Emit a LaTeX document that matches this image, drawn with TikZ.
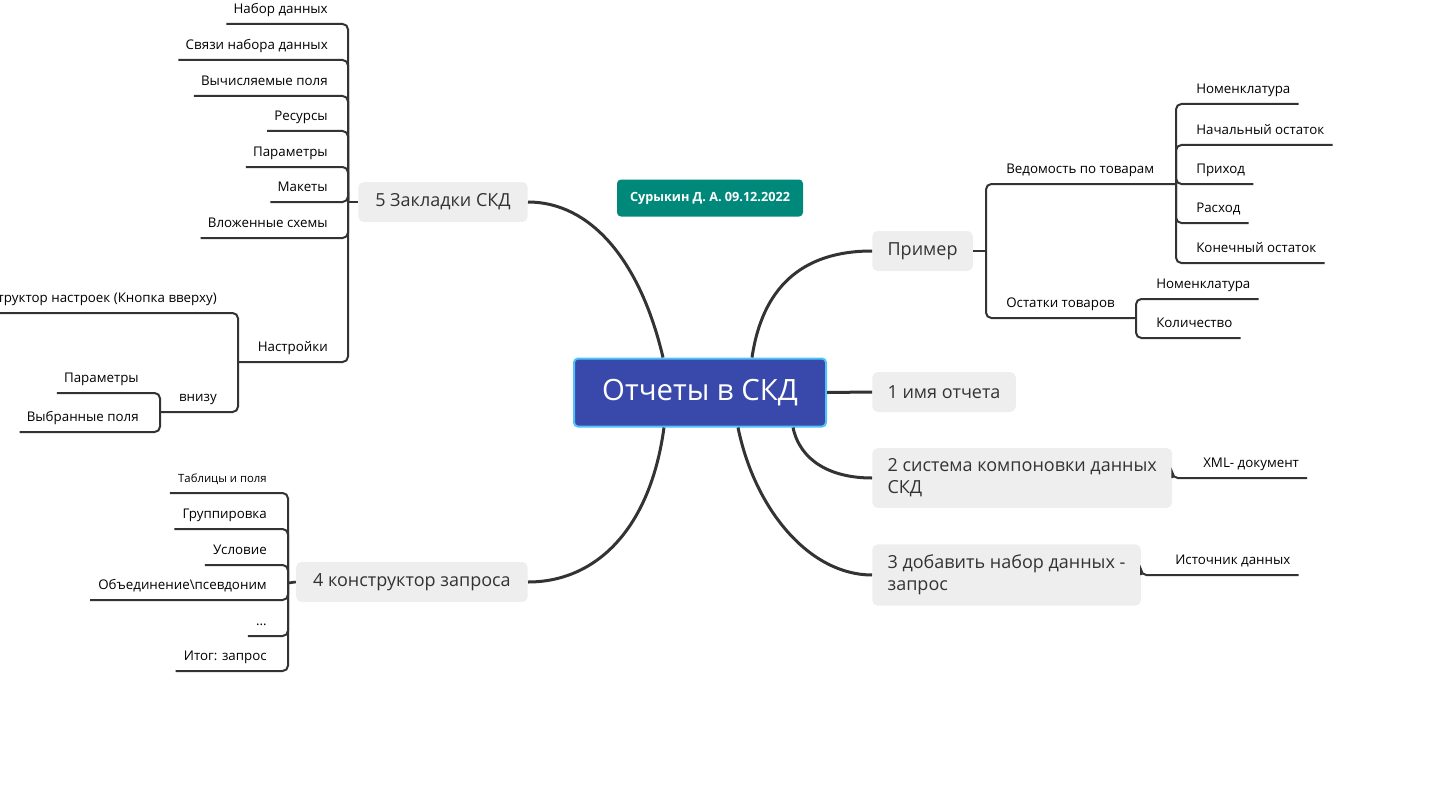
\documentclass[tikz,border=0pt]{standalone}
\usepackage{fontspec}
\setmainfont{Open Sans}
\usetikzlibrary{calc}
\definecolor{rootblue}{HTML}{3949AB}
\definecolor{selblue}{HTML}{4FC3F7}
\definecolor{authteal}{HTML}{00897B}
\definecolor{topicgray}{HTML}{EEEEEE}
\definecolor{linedark}{HTML}{333333}

\begin{document}
\begin{tikzpicture}[x=0.75pt,y=-0.75pt,
    trunk/.style={line width=2.25pt,draw=linedark},
    stem/.style={line width=2pt,draw=linedark},
    twig/.style={line width=1.5pt,draw=linedark,rounded corners=4pt},
    root/.style={draw=selblue,line width=1.5pt,fill=rootblue,rounded corners=3pt,text=white,
      font=\fontsize{22}{27}\selectfont,minimum width=189pt,minimum height=51pt},
    author/.style={fill=authteal,rounded corners=3pt,text=white,
      font=\bfseries\fontsize{9.5}{11}\selectfont,minimum width=139.5pt,minimum height=27.75pt},
    topic/.style={fill=topicgray,rounded corners=4pt,text=linedark,
      font=\fontsize{13.5}{16.5}\selectfont,inner xsep=12.75pt,inner ysep=8pt,minimum height=30pt},
    leaf/.style={inner xsep=0pt,inner ysep=7.5pt,text depth=0pt,text=black,font=\fontsize{10}{12}\selectfont},
    small/.style={leaf,font=\fontsize{8.5}{10}\selectfont}]
  \useasboundingbox (0,0) rectangle (1444,806);

  \node[root] (root) at (700,392.5) {Отчеты в СКД};
  \node[author] (auth) at (710,198) {Сурыкин Д. А. 09.12.2022};

  \node[topic,anchor=east] (t5) at (528,202) {5 Закладки СКД};
  \node[topic,anchor=east] (t4) at (528,582) {4 конструктор запроса};
  \node[topic,anchor=west,inner xsep=11.5pt] (t0) at (872,251) {Пример};
  \node[topic,anchor=west,inner xsep=11.5pt] (t1) at (872,392) {1 имя отчета};
  \node[topic,anchor=west,align=left,inner xsep=11.5pt] (t2) at (872,478) {2 система компоновки данных\\СКД};
  \node[topic,anchor=west,align=left,inner xsep=11.5pt] (t3) at (872,575) {3 добавить набор данных -\\запрос};

  \draw[trunk] ($(root.north)+(-37,0)$) .. controls +(-23,-98) and +(62,0) .. (t5.east);
  \draw[trunk] ($(root.north)+(52,0)$) .. controls +(10,-68) and +(-72,0) .. (t0.west);
  \draw[trunk] (root.east) -- (t1.west);
  \draw[trunk] ($(root.south)+(93,0)$) .. controls +(7,33) and +(-42,0) .. (t2.west);
  \draw[trunk] ($(root.south)+(38,0)$) .. controls +(17,83) and +(-62,0) .. (t3.west);
  \draw[trunk] ($(root.south)+(-36,0)$) .. controls +(-14,103) and +(67,0) .. (t4.east);

  % 5 Закладки СКД
  \coordinate (j5) at (348,202);
  \draw[stem] (t5.west) -- (j5);
  \foreach \n/\y/\t in {nabor/24/Набор данных, svyazi/60/Связи набора данных,
      vychisl/96/Вычисляемые поля, resursy/131/Ресурсы, param/167/Параметры,
      makety/202/Макеты, vlozh/238/Вложенные схемы}{
    \node[leaf,anchor=south east] (\n) at (328,\y) {\t};
    \draw[twig] (j5) |- ($(\n.south west)+(-7,0)$);
  }
  \node[leaf,anchor=south east] (nastr) at (328,362) {Настройки};
  \coordinate (jn) at (238,362);
  \draw[twig] (j5) |- (jn);
  \node[leaf,anchor=south east] (konstr) at (217,313) {Конструктор настроек (Кнопка вверху)};
  \draw[twig] (jn) |- ($(konstr.south west)+(-7,0)$);
  \node[leaf,anchor=south east] (vnizu) at (217,412) {внизу};
  \coordinate (jv) at (160,412);
  \draw[twig] (jn) |- (jv);
  \foreach \n/\y/\t in {param2/393/Параметры, vybr/432/Выбранные поля}{
    \node[leaf,anchor=south east] (\n) at (139,\y) {\t};
    \draw[twig] (jv) |- ($(\n.south west)+(-7,0)$);
  }

  % 4 конструктор запроса
  \coordinate (j4) at (288,583);
  \draw[stem] (t4.west) -- (j4);
  \node[small,anchor=south east] (tabl) at (267,493) {Таблицы и поля};
  \draw[twig] (j4) |- ($(tabl.south west)+(-8,0)$);
  \foreach \n/\y/\t in {grupp/529/Группировка, usl/565/Условие,
      obed/600/Объединение\textbackslash псевдоним, itog/671/Итог: запрос}{
    \node[leaf,anchor=south east] (\n) at (267,\y) {\t};
    \draw[twig] (j4) |- ($(\n.south west)+(-8,0)$);
  }
  \node[leaf,anchor=south east] (etc) at (267,636) {...};
  \draw[twig] (j4) |- ($(etc.south west)+(-8,0)$);

  % Пример
  \coordinate (jp) at (986,251);
  \draw[stem] (t0.east) -- (jp);
  \node[leaf,anchor=south west] (ved) at (1006,184) {Ведомость по товарам};
  \coordinate (jw) at (1176,184);
  \draw[twig] (jp) |- (jw);
  \node[leaf,anchor=south west] (ost) at (1006,318) {Остатки товаров};
  \coordinate (jo) at (1136,318);
  \draw[twig] (jp) |- (jo);
  \foreach \n/\y/\t in {nom/104/Номенклатура, nach/145/Начальный остаток,
      prih/184/Приход, rash/223/Расход, kon/263/Конечный остаток}{
    \node[leaf,anchor=south west] (\n) at (1196,\y) {\t};
    \draw[twig] (jw) |- ($(\n.south east)+(8,0)$);
  }
  \foreach \n/\y/\t in {nom2/299/Номенклатура, kol/338/Количество}{
    \node[leaf,anchor=south west] (\n) at (1156,\y) {\t};
    \draw[twig] (jo) |- ($(\n.south east)+(8,0)$);
  }

  % 2 и 3
  \node[leaf,anchor=south west] (xml) at (1203,478) {XML- документ};
  \draw[twig] (t2.east) |- ($(xml.south east)+(8,0)$);
  \node[leaf,anchor=south west] (ist) at (1175,575) {Источник данных};
  \draw[twig] (t3.east) |- ($(ist.south east)+(8,0)$);
\end{tikzpicture}
\end{document}
